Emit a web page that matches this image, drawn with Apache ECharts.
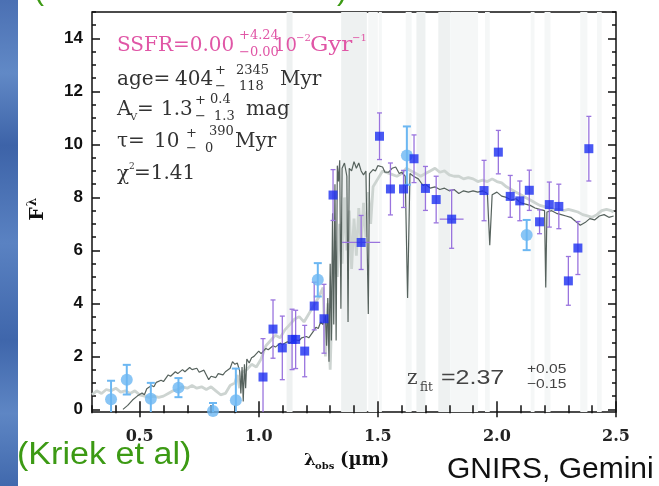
<!DOCTYPE html>
<html>
<head>
<meta charset="utf-8">
<script src="https://cdn.jsdelivr.net/npm/echarts@6/dist/echarts.min.js"></script>
<style>
html, body { margin: 0; padding: 0; background: #fff; }
#chart { width: 659px; height: 486px; }
</style>
</head>
<body>
<div id="chart"></div>
<script>
// tick labels
const xMajor = [0.5, 1.0, 1.5, 2.0, 2.5];
const yMajor = [0, 2, 4, 6, 8, 10, 12, 14];

// broad-band photometry (dark blue squares)
const sqX = [1.018, 1.06, 1.099, 1.14, 1.155, 1.193, 1.233, 1.274, 1.312, 1.43, 1.507, 1.553, 1.608, 1.652, 1.70, 1.745, 1.81, 1.946, 2.006, 2.056, 2.096, 2.136, 2.179, 2.22, 2.26, 2.30, 2.34, 2.386];
const sqY = [1.22, 3.03, 2.32, 2.64, 2.64, 2.2, 3.9, 3.42, 8.09, 6.3, 10.31, 8.32, 8.32, 9.46, 8.34, 7.92, 7.18, 8.26, 9.71, 8.04, 7.87, 8.27, 7.08, 7.73, 7.66, 4.85, 6.09, 9.84];
const sqErr = [1.45, 1.1, 1.2, 1.14, 1.1, 0.97, 0.9, 1.3, 0.96, 1.02, 0.88, 0.98, 0.7, 0.9, 0.83, 0.88, 1.1, 1.14, 0.82, 0.79, 0.75, 0.76, 0.45, 0.85, 0.84, 0.92, 1.0, 1.22];
const sqXErr = [0, 0, 0, 0, 0, 0, 0, 0, 0, 0.08, 0, 0, 0, 0, 0, 0, 0.05, 0, 0, 0, 0, 0, 0, 0, 0, 0, 0, 0];

// light blue circles
const cyX = [0.38, 0.446, 0.547, 0.663, 0.808, 0.904, 1.248, 1.622, 2.125];
const cyY = [0.38, 1.12, 0.4, 0.82, -0.06, 0.34, 4.89, 9.58, 6.58];
const cyErr = [0.7, 0.56, 0.6, 0.36, 0.3, 1.2, 0.63, 1.1, 0.57];

// dark grey spectrum
const darkX = [0.43, 0.45, 0.47, 0.49, 0.51, 0.52, 0.53, 0.55, 0.56, 0.57, 0.59, 0.60, 0.62, 0.63, 0.65, 0.66, 0.68, 0.69, 0.71, 0.72, 0.74, 0.75, 0.77, 0.78, 0.79, 0.80, 0.82, 0.83, 0.85, 0.86, 0.88, 0.89, 0.90, 0.91, 0.92, 0.925, 0.93, 0.935, 0.94, 0.945, 0.95, 0.96, 0.97, 0.98, 1.00, 1.01, 1.03, 1.04, 1.06, 1.07, 1.09, 1.10, 1.12, 1.13, 1.15, 1.17, 1.18, 1.20, 1.21, 1.23, 1.24, 1.25, 1.26, 1.27, 1.28, 1.285, 1.29, 1.295, 1.30, 1.305, 1.31, 1.315, 1.32, 1.325, 1.33, 1.335, 1.34, 1.345, 1.35, 1.36, 1.37, 1.375, 1.38, 1.39, 1.40, 1.41, 1.42, 1.43, 1.44, 1.45, 1.46, 1.465, 1.48, 1.49, 1.50, 1.52, 1.53, 1.545, 1.56, 1.575, 1.59, 1.60, 1.615, 1.625, 1.635, 1.65, 1.67, 1.69, 1.70, 1.72, 1.74, 1.76, 1.78, 1.80, 1.82, 1.84, 1.86, 1.88, 1.90, 1.92, 1.94, 1.96, 1.97, 1.98, 2.00, 2.02, 2.04, 2.06, 2.08, 2.10, 2.12, 2.14, 2.16, 2.18, 2.20, 2.205, 2.21, 2.23, 2.25, 2.27, 2.29, 2.31, 2.33, 2.35, 2.37, 2.39, 2.41, 2.43, 2.45, 2.47, 2.49];
const darkY = [0.0, 0.15, 0.35, 0.5, 0.62, 0.55, 0.78, 0.9, 0.85, 1.02, 1.1, 1.05, 1.3, 1.25, 1.42, 1.35, 1.5, 1.42, 1.58, 1.5, 1.55, 1.4, 1.48, 1.3, 1.12, 1.25, 1.2, 1.35, 1.3, 1.42, 1.55, 1.8, 1.7, 1.75, 1.45, 0.6, 1.6, 0.3, 1.7, 0.8, 1.9, 1.75, 1.95, 2.0, 2.2, 2.1, 2.3, 2.25, 2.4, 2.35, 2.5, 2.45, 2.55, 2.5, 2.62, 2.6, 2.7, 2.75, 2.7, 2.95, 3.1, 3.05, 3.3, 3.2, 3.55, 2.4, 4.2, 1.8, 5.5, 2.6, 7.4, 3.2, 8.5, 2.6, 9.2, 8.6, 9.4, 3.8, 9.1, 9.3, 8.8, 3.3, 9.1, 9.0, 9.35, 9.1, 9.3, 9.0, 8.85, 9.0, 3.6, 8.9, 9.05, 9.0, 9.2, 9.15, 8.95, 8.95, 9.1, 9.15, 8.9, 8.95, 8.8, 4.2, 8.9, 8.8, 8.7, 8.45, 8.5, 8.35, 8.4, 8.3, 8.35, 8.25, 8.3, 8.15, 8.25, 8.2, 8.25, 8.2, 8.25, 8.15, 6.2, 8.1, 8.2, 8.05, 8.0, 7.9, 7.95, 7.8, 7.75, 7.7, 7.6, 7.55, 7.5, 4.6, 7.45, 7.5, 7.4, 7.35, 7.3, 7.25, 7.1, 6.95, 7.05, 7.2, 7.15, 7.3, 7.35, 7.25, 7.3];

// light grey spectrum
const lightX = [0.30, 0.32, 0.34, 0.36, 0.38, 0.40, 0.42, 0.44, 0.46, 0.48, 0.50, 0.52, 0.54, 0.56, 0.58, 0.60, 0.62, 0.64, 0.66, 0.68, 0.70, 0.72, 0.74, 0.76, 0.78, 0.80, 0.82, 0.84, 0.86, 0.88, 0.90, 0.91, 0.92, 0.93, 0.95, 0.97, 0.99, 1.01, 1.03, 1.05, 1.07, 1.09, 1.11, 1.13, 1.15, 1.17, 1.19, 1.21, 1.23, 1.25, 1.27, 1.28, 1.29, 1.30, 1.31, 1.32, 1.33, 1.34, 1.35, 1.36, 1.37, 1.38, 1.39, 1.40, 1.41, 1.42, 1.43, 1.44, 1.45, 1.46, 1.47, 1.48, 1.50, 1.52, 1.55, 1.58, 1.60, 1.62, 1.64, 1.66, 1.68, 1.70, 1.72, 1.74, 1.76, 1.78, 1.80, 1.82, 1.84, 1.86, 1.88, 1.90, 1.92, 1.94, 1.96, 1.98, 2.00, 2.02, 2.04, 2.06, 2.08, 2.10, 2.12, 2.14, 2.16, 2.18, 2.20, 2.22, 2.24, 2.26, 2.28, 2.30, 2.32, 2.34, 2.36, 2.38, 2.40, 2.42, 2.44, 2.46, 2.48, 2.49];
const lightY = [0.55, 0.7, 0.6, 0.75, 0.7, 0.8, 0.65, 0.7, 0.6, 0.7, 0.55, 0.5, 0.45, 0.5, 0.45, 0.5, 0.6, 0.7, 0.75, 0.85, 0.8, 0.9, 0.8, 0.85, 0.75, 0.85, 0.7, 0.55, 0.6, 0.9, 1.0, 1.3, 0.8, 1.4, 1.5, 1.7, 1.6, 1.9, 2.4, 2.6, 2.8, 2.7, 3.0, 3.2, 3.4, 3.5, 3.3, 3.6, 3.9, 4.2, 4.6, 2.0, 4.0, 1.5, 4.5, 6.0, 5.0, 7.0, 5.5, 8.0, 6.0, 7.5, 5.3, 7.2, 5.8, 7.6, 6.2, 7.8, 6.5, 8.2, 7.0, 8.4, 8.7, 9.0, 8.9, 8.8, 8.9, 9.1, 9.0, 8.9, 8.8, 8.9, 9.0, 9.1, 8.95, 9.0, 8.85, 8.8, 8.8, 8.7, 8.75, 8.7, 8.6, 8.65, 8.6, 8.7, 8.6, 8.55, 8.4, 8.3, 8.2, 8.1, 8.0, 7.9, 7.8, 7.7, 7.65, 7.6, 7.55, 7.55, 7.5, 7.55, 7.5, 7.45, 7.35, 7.3, 7.25, 7.35, 7.5, 7.55, 7.5, 7.45];

// shaded wavelength windows
const bandsDark = [[1.117, 1.142], [1.346, 1.454], [1.662, 1.70], [1.754, 1.804]];
const bandsLight = [[1.46, 1.50], [1.504, 1.517], [1.617, 1.642], [1.804, 1.921], [1.95, 1.97], [2.142, 2.158], [2.20, 2.225], [2.35, 2.38], [2.42, 2.44]];

const chart = echarts.init(document.getElementById('chart'));

function pairs(xs, ys) {
    return xs.map((x, i) => [x, ys[i]]);
}

function errBars(color, cap, width) {
    return function (params, api) {
        const x = api.value(0), y = api.value(1), e = api.value(2), xe = api.value(3);
        const lo = api.coord([x, y - e]);
        const hi = api.coord([x, y + e]);
        const st = { stroke: color, lineWidth: width };
        const kids = [
            { type: 'line', shape: { x1: lo[0], y1: lo[1], x2: hi[0], y2: hi[1] }, style: st },
            { type: 'line', shape: { x1: lo[0] - cap, y1: lo[1], x2: lo[0] + cap, y2: lo[1] }, style: st },
            { type: 'line', shape: { x1: hi[0] - cap, y1: hi[1], x2: hi[0] + cap, y2: hi[1] }, style: st }
        ];
        if (xe) {
            const l = api.coord([x - xe, y]);
            const r = api.coord([x + xe, y]);
            kids.push({ type: 'line', shape: { x1: l[0], y1: l[1], x2: r[0], y2: r[1] }, style: st });
        }
        return { type: 'group', children: kids };
    };
}

function txt(x, y, s, size, color, family, extra) {
    const o = extra || {};
    return {
        type: 'text', x: x, y: y, z: 100, rotation: o.rotation || 0, scaleX: o.scaleX || 1,
        style: {
            text: s, fill: color,
            font: (o.weight || 'normal') + ' ' + size + 'px ' + family,
            align: o.align || 'left', verticalAlign: o.valign || 'middle'
        }
    };
}

const serif = '"DejaVu Serif", serif';
const sans = '"Liberation Sans", Arial, sans-serif';
const pink = '#e056a6';
const grey = '#333';

const minorY = [];
for (let v = 0; v <= 15; v += 0.5) minorY.push(v);

const tickBase = { show: true, inside: true, lineStyle: { color: '#111', width: 1.5 } };

chart.setOption({
    backgroundColor: '#fff',
    animation: false,
    grid: { left: 92, right: 43, top: 12, bottom: 74, show: true, borderColor: '#111', borderWidth: 1.5, backgroundColor: 'transparent' },
    xAxis: [
        {
            type: 'value', position: 'bottom', min: 0.3, max: 2.5,
            axisLine: { show: false }, splitLine: { show: false },
            axisTick: Object.assign({}, tickBase, { length: 8, customValues: xMajor }),
            axisLabel: { customValues: xMajor, margin: 17, formatter: v => v.toFixed(1), color: '#222', fontFamily: serif, fontWeight: 'bold', fontSize: 16 }
        },
        {
            type: 'value', position: 'bottom', min: 0.3, max: 2.5, interval: 0.1,
            axisLine: { show: false }, splitLine: { show: false }, axisLabel: { show: false },
            axisTick: Object.assign({}, tickBase, { length: 4 })
        },
        {
            type: 'value', position: 'top', min: 0.3, max: 2.5,
            axisLine: { show: false }, splitLine: { show: false }, axisLabel: { show: false },
            axisTick: Object.assign({}, tickBase, { length: 8, customValues: xMajor })
        },
        {
            type: 'value', position: 'top', min: 0.3, max: 2.5, interval: 0.1,
            axisLine: { show: false }, splitLine: { show: false }, axisLabel: { show: false },
            axisTick: Object.assign({}, tickBase, { length: 4 })
        }
    ],
    yAxis: [
        {
            type: 'value', position: 'left', min: -0.1, max: 15,
            axisLine: { show: false }, splitLine: { show: false },
            axisTick: Object.assign({}, tickBase, { length: 8, customValues: yMajor }),
            axisLabel: { customValues: yMajor, margin: 9, color: '#111', fontFamily: sans, fontWeight: 'bold', fontSize: 17 }
        },
        {
            type: 'value', position: 'left', min: -0.1, max: 15,
            axisLine: { show: false }, splitLine: { show: false }, axisLabel: { show: false },
            axisTick: Object.assign({}, tickBase, { length: 4, customValues: minorY })
        },
        {
            type: 'value', position: 'right', min: -0.1, max: 15,
            axisLine: { show: false }, splitLine: { show: false }, axisLabel: { show: false },
            axisTick: Object.assign({}, tickBase, { length: 8, customValues: yMajor })
        },
        {
            type: 'value', position: 'right', min: -0.1, max: 15,
            axisLine: { show: false }, splitLine: { show: false }, axisLabel: { show: false },
            axisTick: Object.assign({}, tickBase, { length: 4, customValues: minorY })
        }
    ],
    series: [
        {
            type: 'line', data: [], silent: true, z: 0,
            markArea: { silent: true, z: 0, itemStyle: { color: '#eef1f1' }, data: bandsDark.map(b => [{ xAxis: b[0] }, { xAxis: b[1] }]) }
        },
        {
            type: 'line', data: [], silent: true, z: 0,
            markArea: { silent: true, z: 0, itemStyle: { color: '#f5f7f7' }, data: bandsLight.map(b => [{ xAxis: b[0] }, { xAxis: b[1] }]) }
        },
        {
            type: 'line', data: pairs(lightX, lightY), symbol: 'none', clip: true, z: 3,
            lineStyle: { color: '#cdd4d1', width: 2.8 }
        },
        {
            type: 'line', data: pairs(darkX, darkY), symbol: 'none', clip: true, z: 4,
            lineStyle: { color: '#56625d', width: 1.2 }
        },
        {
            type: 'custom', clip: true, encode: { x: 0, y: 1 }, z: 5,
            renderItem: errBars('#6cb7f2', 4, 2),
            data: cyX.map((x, i) => [x, cyY[i], cyErr[i], 0])
        },
        {
            type: 'custom', clip: true, encode: { x: 0, y: 1 }, z: 5,
            renderItem: errBars('#9a74de', 2.5, 1.3),
            data: sqX.map((x, i) => [x, sqY[i], sqErr[i], sqXErr[i]])
        },
        {
            type: 'scatter', data: pairs(cyX, cyY), symbol: 'circle', symbolSize: 12, clip: true, z: 6,
            itemStyle: { color: '#6cb7f2' }
        },
        {
            type: 'scatter', data: pairs(sqX, sqY), symbol: 'rect', symbolSize: 9, clip: true, z: 7,
            itemStyle: { color: '#1c2ef0' }
        }
    ],
    graphic: [
        {
            type: 'rect', shape: { x: 0, y: 0, width: 18, height: 486 }, z: 1,
            style: {
                fill: new echarts.graphic.LinearGradient(0, 0, 0, 1, [
                    { offset: 0, color: '#4b70b3' }, { offset: 0.15, color: '#6189c6' },
                    { offset: 0.3, color: '#3d63a8' }, { offset: 0.5, color: '#5a82c2' },
                    { offset: 0.7, color: '#3f66ab' }, { offset: 0.85, color: '#5e86c4' },
                    { offset: 1, color: '#4169ad' }
                ])
            }
        },
        txt(34, 7, '(', 30, '#3c9a14', sans, { valign: 'bottom' }),
        txt(337, 7, ')', 30, '#3c9a14', sans, { valign: 'bottom' }),

        // fit annotations
        txt(117, 46, 'SSFR=0.00', 20, pink, serif),
        txt(239, 36, '+4.24', 13, pink, serif),
        txt(239, 53, '\u22120.00', 13, pink, serif),
        txt(274, 46, '10', 18, pink, serif),
        txt(296, 38, '\u22122', 10, pink, serif),
        txt(310, 46, 'Gyr', 20, pink, serif, { scaleX: 1.15 }),
        txt(352, 38, '\u22121', 10, pink, serif),

        txt(117, 80, 'age=', 20, grey, serif),
        txt(175, 80, '404', 20, grey, serif),
        txt(215, 71, '+', 13, grey, serif),
        txt(236, 71, '2345', 13, grey, serif),
        txt(215, 87, '\u2212', 13, grey, serif),
        txt(239, 87, '118', 13, grey, serif),
        txt(280, 80, 'Myr', 20, grey, serif),

        txt(117, 110, 'A', 20, grey, serif),
        txt(130, 117, 'V', 10, grey, serif),
        txt(137, 110, '=', 20, grey, serif),
        txt(161, 110, '1.3', 20, grey, serif),
        txt(195, 101, '+', 13, grey, serif),
        txt(210, 100, '0.4', 13, grey, serif),
        txt(195, 117, '\u2212', 13, grey, serif),
        txt(214, 117, '1.3', 13, grey, serif),
        txt(246, 110, 'mag', 20, grey, serif),

        txt(117, 142, '\u03c4=', 20, grey, serif),
        txt(154, 142, '10', 20, grey, serif),
        txt(186, 134, '+', 13, grey, serif),
        txt(209, 132, '390', 13, grey, serif),
        txt(186, 149, '\u2212', 13, grey, serif),
        txt(205, 149, '0', 13, grey, serif),
        txt(235, 142, 'Myr', 20, grey, serif),

        txt(117, 175, '\u03c7', 20, grey, serif),
        txt(129, 167, '2', 9, grey, serif),
        txt(134, 174, '=1.41', 20, grey, serif),

        // redshift
        txt(407, 379, 'z', 20, '#444', serif),
        txt(420, 388, 'fit', 12, '#444', serif),
        txt(441, 378, '=2.37', 20, '#444', sans, { scaleX: 1.25 }),
        txt(527, 369, '+0.05', 13, '#444', sans, { scaleX: 1.2 }),
        txt(527, 384, '\u22120.15', 13, '#444', sans, { scaleX: 1.2 }),

        // axis titles
        txt(38, 214, 'F', 19, '#111', serif, { weight: 'bold', rotation: Math.PI / 2, align: 'center' }),
        txt(33, 202, '\u03bb', 12, '#111', serif, { weight: 'bold', rotation: Math.PI / 2, align: 'center' }),
        txt(304, 461, '\u03bb', 17, '#111', serif, { weight: 'bold' }),
        txt(315, 466, 'obs', 10, '#111', serif, { weight: 'bold' }),
        txt(340, 460, '(\u00b5m)', 18, '#111', serif, { weight: 'bold' }),

        // slide captions
        txt(17, 455, '(Kriek et al)', 31, '#3c9a14', sans, { scaleX: 1.1 }),
        txt(447, 470, 'GNIRS, Gemini', 30, '#111', sans)
    ]
});
</script>
</body>
</html>
